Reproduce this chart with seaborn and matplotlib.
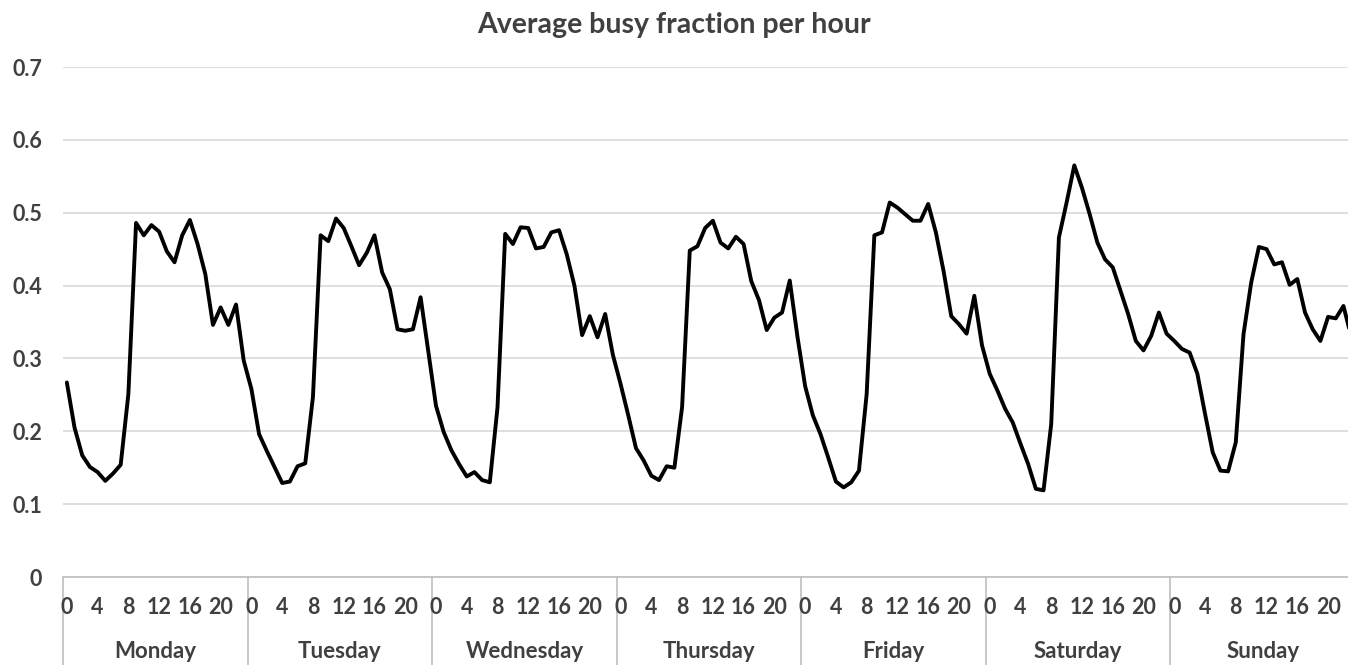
"""
busy_fraction.py
Average busy fraction per hour of the week, drawn as one continuous line
with an Excel-style two-level x axis (hour / weekday).
"""

import numpy as np
import pandas as pd
import matplotlib.pyplot as plt
import seaborn as sns

DAYS = ['Monday', 'Tuesday', 'Wednesday', 'Thursday', 'Friday', 'Saturday', 'Sunday']
HOUR_TICKS = [0, 4, 8, 12, 16, 20]

# hourly values, one list per day (hours 0..23)
monday = [0.267, 0.205, 0.167, 0.151, 0.144, 0.132, 0.142, 0.154, 0.251, 0.486, 0.469, 0.483,
          0.474, 0.447, 0.432, 0.469, 0.490, 0.457, 0.416, 0.346, 0.370, 0.346, 0.374, 0.297]
tuesday = [0.258, 0.196, 0.173, 0.151, 0.129, 0.131, 0.152, 0.156, 0.247, 0.469, 0.461, 0.492,
           0.479, 0.454, 0.428, 0.445, 0.469, 0.418, 0.395, 0.340, 0.338, 0.340, 0.384, 0.310]
wednesday = [0.235, 0.199, 0.174, 0.155, 0.138, 0.144, 0.133, 0.130, 0.233, 0.471, 0.457, 0.480,
             0.479, 0.451, 0.453, 0.473, 0.476, 0.443, 0.400, 0.332, 0.358, 0.329, 0.361, 0.305]
thursday = [0.265, 0.222, 0.177, 0.160, 0.139, 0.133, 0.152, 0.150, 0.233, 0.448, 0.454, 0.479,
            0.489, 0.459, 0.451, 0.467, 0.457, 0.406, 0.380, 0.339, 0.356, 0.363, 0.407, 0.330]
friday = [0.262, 0.222, 0.196, 0.164, 0.131, 0.123, 0.130, 0.146, 0.251, 0.469, 0.473, 0.514,
          0.507, 0.498, 0.489, 0.489, 0.512, 0.473, 0.420, 0.358, 0.347, 0.334, 0.386, 0.318]
saturday = [0.279, 0.256, 0.231, 0.212, 0.183, 0.155, 0.121, 0.119, 0.210, 0.466, 0.514, 0.565,
            0.534, 0.498, 0.459, 0.436, 0.425, 0.393, 0.361, 0.324, 0.311, 0.331, 0.363, 0.334]
sunday = [0.324, 0.313, 0.308, 0.279, 0.224, 0.171, 0.146, 0.145, 0.185, 0.333, 0.404, 0.453,
          0.450, 0.429, 0.432, 0.401, 0.409, 0.363, 0.340, 0.324, 0.357, 0.355, 0.372, 0.330]

TEXT_COLOR = '#404040'
GRID_COLOR = '#d9d9d9'


def build_frame():
    values = monday + tuesday + wednesday + thursday + friday + saturday + sunday
    return pd.DataFrame({'slot': np.arange(len(values)), 'busy': values})


def main():
    sns.set_theme(style='white')
    plt.rcParams['font.family'] = ['Lato', 'DejaVu Sans']
    plt.rcParams['font.weight'] = 'bold'

    df = build_frame()
    n = len(df)

    fig = plt.figure(figsize=(13.48, 6.65), dpi=100)
    # plot area runs a little past the right edge, like the cropped original
    ax = fig.add_axes([63 / 1348, 88 / 665, 1292 / 1348, 510 / 665])

    sns.lineplot(data=df, x='slot', y='busy', ax=ax, color='black', linewidth=2.8)

    ax.set_xlim(-0.5, n - 0.5)
    ax.set_ylim(0, 0.7)
    ax.set_yticks(np.arange(0, 0.71, 0.1))
    ax.set_yticklabels(['0'] + [f'{v:.1f}' for v in np.arange(0.1, 0.71, 0.1)],
                       fontsize=15.5, fontweight='bold', color=TEXT_COLOR)
    ax.tick_params(axis='y', length=0, pad=15)
    ax.yaxis.grid(True, color=GRID_COLOR, linewidth=1.2)
    ax.set_axisbelow(True)

    for side in ['top', 'right', 'left']:
        ax.spines[side].set_visible(False)
    ax.spines['bottom'].set_color('#bfbfbf')
    ax.spines['bottom'].set_linewidth(1.2)

    # two-level category axis: hour labels and weekday labels
    ax.set_xticks([])
    ax.set_xlabel('')
    ax.set_ylabel('')
    trans = ax.get_xaxis_transform()
    for d, day in enumerate(DAYS):
        start = d * 24
        for h in HOUR_TICKS:
            ax.text(start + h, -30 / 510, str(h), transform=trans, ha='center', va='center',
                    fontsize=15.5, fontweight='bold', color=TEXT_COLOR)
        ax.text(start + 11.5, -75 / 510, day, transform=trans, ha='center', va='center',
                fontsize=16, fontweight='bold', color=TEXT_COLOR)
        ax.plot([start - 0.5, start - 0.5], [0, -90 / 510], transform=trans,
                color='#bfbfbf', linewidth=1.2, clip_on=False)

    fig.text(0.5, 1 - 25 / 665, 'Average busy fraction per hour', ha='center', va='center',
             fontsize=20.5, fontweight='bold', color=TEXT_COLOR)

    fig.savefig('out.png', dpi=100)


if __name__ == '__main__':
    main()
